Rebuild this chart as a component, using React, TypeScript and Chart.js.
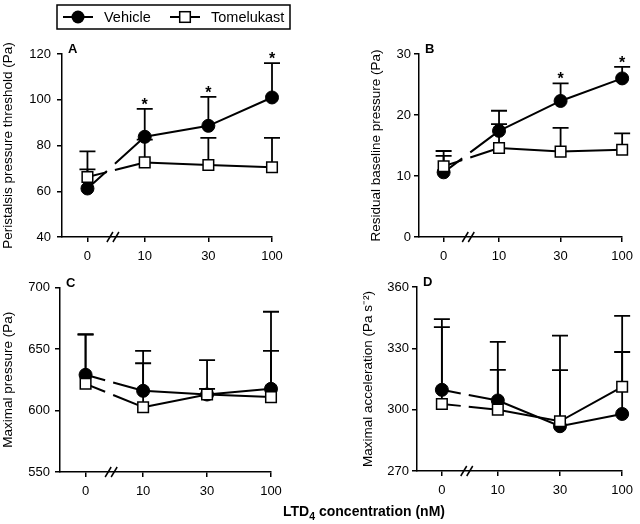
import React, { useEffect, useRef } from 'react';
import { Chart, registerables } from 'chart.js';

Chart.register(...registerables);

const FONT = "'Liberation Sans', Arial, Helvetica, sans-serif";

// ---------- data ----------
const concentrations = ['0', '10', '30', '100'];
const BREAK_X = 0.4; // axis break between 0 and 10 (axis units)
const BREAK_SHRINK = 0.1; // the 0→10 interval is compressed by the break
const xPos = (i: number) => (i === 0 ? 0 : i - BREAK_SHRINK);

// A: peristalsis pressure threshold (Pa)
const thresholdTicks = [40, 120, 20];
const thresholdVehicle = [61.2, 83.8, 88.6, 101.0];
const thresholdVehicleSem = [8.4, 12.2, 12.7, 15.0];
const thresholdTomelukast = [66.2, 72.6, 71.5, 70.5];
const thresholdTomelukastSem = [11.2, 10.0, 11.8, 12.8];
const thresholdStars = [1, 2, 3];

// B: residual baseline pressure (Pa)
const baselineTicks = [0, 30, 10];
const baselineVehicle = [10.6, 17.4, 22.3, 26.0];
const baselineVehicleSem = [3.5, 3.3, 2.9, 1.9];
const baselineTomelukast = [11.6, 14.6, 14.0, 14.3];
const baselineTomelukastSem = [1.7, 3.9, 3.9, 2.7];
const baselineStars = [2, 3];

// C: maximal pressure (Pa)
const pressureTicks = [550, 700, 50];
const pressureVehicle = [629.0, 616.0, 613.0, 617.6];
const pressureVehicleSem = [33.0, 32.4, 28.0, 62.7];
const pressureTomelukast = [621.7, 602.7, 613.0, 610.9];
const pressureTomelukastSem = [40.0, 35.7, 4.6, 37.5];
const pressureStars: number[] = [];

// D: maximal acceleration (Pa s-2)
const accelTicks = [270, 360, 30];
const accelVehicle = [309.7, 304.5, 291.9, 297.9];
const accelVehicleSem = [34.6, 28.7, 44.3, 30.3];
const accelTomelukast = [302.8, 300.0, 294.3, 311.2];
const accelTomelukastSem = [37.6, 19.5, 25.0, 34.7];
const accelStars: number[] = [];

const seriesNames = ['Vehicle', 'Tomelukast'];

// ---------- layout ----------
type PanelCfg = {
  letter: string;
  yTitle: string;
  range: number[];
  vehicle: number[];
  vehicleSem: number[];
  tomelukast: number[];
  tomelukastSem: number[];
  stars: number[];
  box: { left: number; top: number; width: number; height: number };
  pad: { left: number; top: number; right: number; bottom: number };
  yWidth: number;
  xHeight: number;
  titlePad: number;
  tickPad: number;
  legend: boolean;
};

const panels: PanelCfg[] = [
  {
    letter: 'A', yTitle: 'Peristalsis pressure threshold (Pa)', range: thresholdTicks,
    vehicle: thresholdVehicle, vehicleSem: thresholdVehicleSem,
    tomelukast: thresholdTomelukast, tomelukastSem: thresholdTomelukastSem, stars: thresholdStars,
    box: { left: 0, top: 0, width: 320, height: 275 },
    pad: { left: 0, top: 54, right: 48, bottom: 0 }, yWidth: 62, xHeight: 38,
    titlePad: 0, tickPad: 6, legend: true,
  },
  {
    letter: 'B', yTitle: 'Residual baseline pressure (Pa)', range: baselineTicks,
    vehicle: baselineVehicle, vehicleSem: baselineVehicleSem,
    tomelukast: baselineTomelukast, tomelukastSem: baselineTomelukastSem, stars: baselineStars,
    box: { left: 320, top: 0, width: 320, height: 275 },
    pad: { left: 0, top: 54, right: 11, bottom: 0 }, yWidth: 99, xHeight: 38,
    titlePad: 48, tickPad: 3, legend: false,
  },
  {
    letter: 'C', yTitle: 'Maximal pressure (Pa)', range: pressureTicks,
    vehicle: pressureVehicle, vehicleSem: pressureVehicleSem,
    tomelukast: pressureTomelukast, tomelukastSem: pressureTomelukastSem, stars: pressureStars,
    box: { left: 0, top: 262, width: 320, height: 262 },
    pad: { left: 0, top: 25.5, right: 49, bottom: 14 }, yWidth: 60, xHeight: 38,
    titlePad: 0, tickPad: 5, legend: false,
  },
  {
    letter: 'D', yTitle: 'Maximal acceleration (Pa s\u207B\u00B2)', range: accelTicks,
    vehicle: accelVehicle, vehicleSem: accelVehicleSem,
    tomelukast: accelTomelukast, tomelukastSem: accelTomelukastSem, stars: accelStars,
    box: { left: 320, top: 262, width: 320, height: 262 },
    pad: { left: 0, top: 25, right: 12, bottom: 15 }, yWidth: 97, xHeight: 38,
    titlePad: 40, tickPad: 3, legend: false,
  },
];

const GAP = 8;

const breakDash = (ctx: any) => {
  if (ctx.p0DataIndex !== 0) return undefined;
  const xs = ctx.chart.scales.x;
  const bx = xs.getPixelForValue(BREAK_X);
  const dx = ctx.p1.x - ctx.p0.x;
  const dy = ctx.p1.y - ctx.p0.y;
  const k = Math.hypot(dx, dy) / dx;
  const on = (bx - 2 - GAP / 2 - ctx.p0.x) * k;
  return [on, GAP * k, 2000, 0];
};

function Panel({ cfg }: { cfg: PanelCfg }) {
  const ref = useRef<HTMLCanvasElement | null>(null);

  useEffect(() => {
    const canvas = ref.current;
    if (!canvas) return;

    const decor = {
      id: 'decor' + cfg.letter,
      beforeDatasetsDraw(chart: any) {
        const ctx = chart.ctx;
        const ys = chart.scales.y;
        ctx.save();
        ctx.strokeStyle = '#000';
        ctx.lineWidth = 1.8;
        chart.data.datasets.forEach((ds: any, di: number) => {
          const meta = chart.getDatasetMeta(di);
          ds.data.forEach((pt: any, i: number) => {
            const el = meta.data[i];
            const top = ys.getPixelForValue(pt.y + ds.sem[i]);
            ctx.beginPath();
            ctx.moveTo(el.x, el.y);
            ctx.lineTo(el.x, top);
            ctx.moveTo(el.x - 8, top);
            ctx.lineTo(el.x + 8, top);
            ctx.stroke();
          });
        });
        ctx.restore();
      },
      afterDatasetsDraw(chart: any) {
        const ctx = chart.ctx;
        const ys = chart.scales.y;
        const ds: any = chart.data.datasets[0];
        const meta = chart.getDatasetMeta(0);
        ctx.save();
        ctx.fillStyle = '#000';
        ctx.font = `bold 16px ${FONT}`;
        ctx.textAlign = 'center';
        ctx.textBaseline = 'alphabetic';
        cfg.stars.forEach((i) => {
          const el = meta.data[i];
          const top = ys.getPixelForValue(ds.data[i].y + ds.sem[i]);
          ctx.fillText('*', el.x, top + 1);
        });
        ctx.restore();
      },
      afterDraw(chart: any) {
        const ctx = chart.ctx;
        const area = chart.chartArea;
        const xs = chart.scales.x;
        ctx.save();
        // panel letter
        ctx.fillStyle = '#000';
        ctx.font = `bold 13px ${FONT}`;
        ctx.textAlign = 'left';
        ctx.textBaseline = 'alphabetic';
        ctx.fillText(cfg.letter, area.left + 6, area.top - 1);
        // axis break marks
        const bx = xs.getPixelForValue(BREAK_X);
        ctx.strokeStyle = '#000';
        ctx.lineWidth = 1.5;
        [-3, 3].forEach((o) => {
          ctx.beginPath();
          ctx.moveTo(bx + o - 3, area.bottom + 5);
          ctx.lineTo(bx + o + 3, area.bottom - 5);
          ctx.stroke();
        });
        // legend
        if (cfg.legend) {
          ctx.lineWidth = 1.5;
          ctx.strokeRect(57, 5, 233, 24);
          const ly = 17;
          ctx.lineWidth = 2;
          ctx.beginPath();
          ctx.moveTo(63, ly);
          ctx.lineTo(93, ly);
          ctx.moveTo(170, ly);
          ctx.lineTo(200, ly);
          ctx.stroke();
          ctx.beginPath();
          ctx.arc(78, ly, 6.5, 0, Math.PI * 2);
          ctx.fill();
          ctx.fillStyle = '#fff';
          ctx.fillRect(185 - 5.3, ly - 5.3, 10.6, 10.6);
          ctx.lineWidth = 1.5;
          ctx.strokeRect(185 - 5.3, ly - 5.3, 10.6, 10.6);
          ctx.fillStyle = '#000';
          ctx.font = `14.5px ${FONT}`;
          ctx.textBaseline = 'middle';
          ctx.fillText(seriesNames[0], 104, ly + 0.5);
          ctx.fillText(seriesNames[1], 211, ly + 0.5);
        }
        ctx.restore();
      },
    };

    const toPoints = (arr: number[]) => arr.map((y, i) => ({ x: xPos(i), y }));

    const chart = new Chart(canvas, {
      type: 'line',
      data: {
        datasets: [
          {
            label: seriesNames[0],
            data: toPoints(cfg.vehicle),
            sem: cfg.vehicleSem,
            borderColor: '#000',
            borderWidth: 2,
            pointStyle: 'circle',
            pointRadius: 6.5,
            pointBackgroundColor: '#000',
            pointBorderColor: '#000',
            pointBorderWidth: 1,
            clip: false,
            order: 1,
            segment: { borderDash: breakDash },
          } as any,
          {
            label: seriesNames[1],
            data: toPoints(cfg.tomelukast),
            sem: cfg.tomelukastSem,
            borderColor: '#000',
            borderWidth: 2,
            pointStyle: 'rect',
            pointRadius: 7.5,
            pointBackgroundColor: '#fff',
            pointBorderColor: '#000',
            pointBorderWidth: 1.5,
            clip: false,
            order: 0,
            segment: { borderDash: breakDash },
          } as any,
        ],
      },
      options: {
        animation: false,
        responsive: false,
        devicePixelRatio: 1,
        layout: { padding: cfg.pad },
        plugins: { legend: { display: false }, tooltip: { enabled: false } },
        scales: {
          x: {
            type: 'linear',
            min: -0.4,
            max: 2.9,
            afterBuildTicks: (s: any) => {
              s.ticks = concentrations.map((_, i) => ({ value: xPos(i) }));
            },
            afterFit: (s: any) => {
              s.height = cfg.xHeight;
            },
            ticks: {
              callback: (_v: any, i: number) => concentrations[i],
              autoSkip: false,
              maxRotation: 0,
              padding: 7,
              color: '#000',
              font: { size: 13, family: FONT },
            },
            grid: {
              display: true,
              drawOnChartArea: false,
              drawTicks: true,
              tickLength: 5,
              color: '#000',
              lineWidth: 1.5,
            },
            border: { display: true, color: '#000', width: 1.5 },
          },
          y: {
            type: 'linear',
            min: cfg.range[0],
            max: cfg.range[1],
            afterFit: (s: any) => {
              s.width = cfg.yWidth;
            },
            ticks: {
              stepSize: cfg.range[2],
              padding: cfg.tickPad,
              color: '#000',
              font: { size: 13, family: FONT },
            },
            title: {
              display: true,
              text: cfg.yTitle,
              color: '#000',
              font: { size: 13.5, family: FONT },
              padding: { top: cfg.titlePad, bottom: 0 },
            },
            grid: {
              display: true,
              drawOnChartArea: false,
              drawTicks: true,
              tickLength: 5,
              color: '#000',
              lineWidth: 1.5,
            },
            border: { display: true, color: '#000', width: 1.5 },
          },
        },
      } as any,
      plugins: [decor as any],
    });

    return () => chart.destroy();
  }, [cfg]);

  return (
    <canvas
      ref={ref}
      width={cfg.box.width}
      height={cfg.box.height}
      style={{
        position: 'absolute',
        left: cfg.box.left,
        top: cfg.box.top,
        width: cfg.box.width,
        height: cfg.box.height,
      }}
    />
  );
}

export default function App() {
  return (
    <div
      style={{
        position: 'absolute',
        left: 0,
        top: 0,
        width: 640,
        height: 524,
        background: '#fff',
        overflow: 'hidden',
      }}
    >
      {panels.map((p) => (
        <Panel key={p.letter} cfg={p} />
      ))}
      <div
        style={{
          position: 'absolute',
          left: 364,
          top: 503,
          transform: 'translateX(-50%)',
          whiteSpace: 'nowrap',
          fontFamily: FONT,
          fontWeight: 'bold',
          fontSize: 14,
          lineHeight: '16px',
          color: '#000',
        }}
      >
        LTD<sub style={{ fontSize: '0.75em', lineHeight: 0 }}>4</sub> concentration (nM)
      </div>
    </div>
  );
}
